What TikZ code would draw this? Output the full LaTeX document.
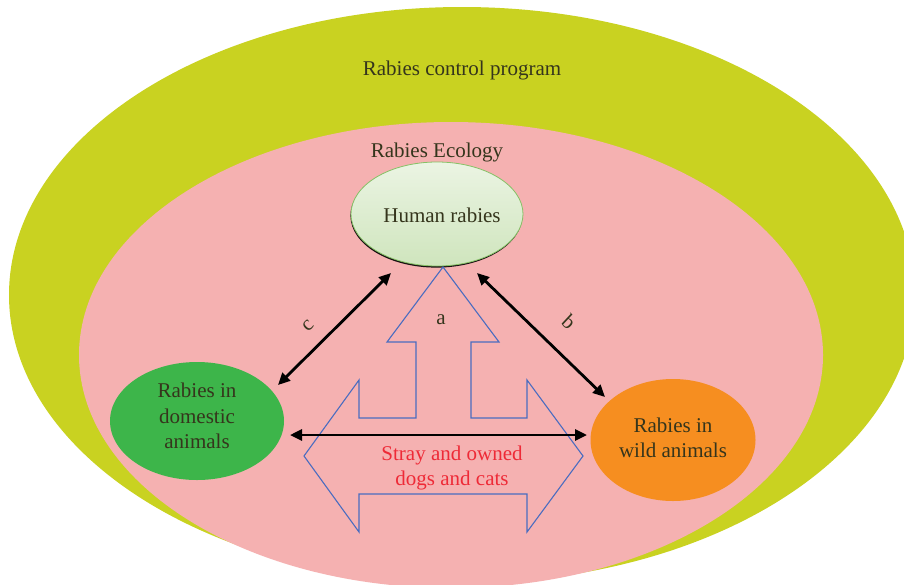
\documentclass[tikz,border=0pt]{standalone}
\usepackage{fontspec}
\setmainfont{Liberation Serif}
\usetikzlibrary{shapes.geometric,arrows.meta,shadows}
\definecolor{outerc}{HTML}{C9D221}
\definecolor{pinkc}{HTML}{F5B1B1}
\definecolor{domc}{HTML}{3DB54A}
\definecolor{wildc}{HTML}{F68E20}
\definecolor{humtop}{HTML}{EBF4E3}
\definecolor{humbot}{HTML}{CFE5BD}
\definecolor{humborder}{HTML}{86C166}
\definecolor{txtc}{HTML}{35351C}
\definecolor{redtxt}{HTML}{EE2A37}
\definecolor{bluec}{HTML}{4A6CC0}
\tikzset{
  lbl/.style={text=txtc, font=\fontsize{21}{25.5}\selectfont, align=center, inner sep=0pt},
  redlbl/.style={text=redtxt, font=\fontsize{21}{25.5}\selectfont, align=center, inner sep=0pt},
  smalllbl/.style={text=txtc, font=\fontsize{19}{22}\selectfont, inner sep=0pt},
  blob/.style={ellipse, inner sep=0pt},
  dblarrow/.style={line width=2.8pt, {Triangle[length=12pt,width=11pt]}-{Triangle[length=12pt,width=11pt]}},
  bigarrow/.style={draw=bluec, line width=1.1pt, line join=miter}
}
\begin{document}
\begin{tikzpicture}[x=1pt,y=-1pt]
\useasboundingbox (0,0) rectangle (904,584);
\clip (0,0) rectangle (904,584);
\fill[white] (0,0) rectangle (904,584);
% outer and inner regions
\fill[outerc] (462,295) ellipse [x radius=453pt, y radius=288pt];
\fill[pinkc] (451,355) ellipse [x radius=372pt, y radius=233pt];
\node[lbl] (program) at (462,70) {Rabies control program};
\node[lbl] (ecology) at (437,152) {Rabies Ecology};
% blobs
\node[blob, minimum width=172pt, minimum height=104pt, top color=humtop, bottom color=humbot,
      draw=humborder, line width=0.8pt,
      drop shadow={shadow xshift=-0.6pt, shadow yshift=-1.6pt, fill=black, opacity=0.9}] (human) at (437,214) {};
\node[lbl] (humantxt) at (442,215) {Human rabies};
\node[blob, minimum width=174pt, minimum height=118pt, fill=domc] (dom) at (197,421) {};
\node[lbl] (domtxt) at (197,416) {Rabies in\\domestic\\animals};
\node[blob, minimum width=165pt, minimum height=122pt, fill=wildc] (wild) at (673,440) {};
\node[lbl] (wildtxt) at (673,438) {Rabies in\\wild animals};
% big blue combined arrow
\draw[bigarrow] (443,267) -- (499,342) -- (471,342) -- (471,418) -- (527,418) -- (527,380)
  -- (583,456) -- (527,532) -- (527,494) -- (359,494) -- (359,532) -- (304,456)
  -- (359,380) -- (359,418) -- (416,418) -- (416,342) -- (387,342) -- cycle;
\node[lbl] (alabel) at (441,320) {a};
\node[redlbl] (stray) at (452,468) {Stray and owned\\dogs and cats};
% double arrows
\coordinate (cTop) at (391,273);
\coordinate (cBot) at (278,385);
\coordinate (bTop) at (477,273);
\coordinate (bBot) at (605,397);
\coordinate (hL) at (290,435);
\coordinate (hR) at (587,435);
\draw[dblarrow] (cBot) -- (cTop);
\draw[dblarrow] (bTop) -- (bBot);
\draw[dblarrow] (hL) -- (hR);
\node[lbl, rotate=45] (clabel) at (308,326) {c};
\node[lbl, rotate=-43] (blabel) at (569,322) {b};
\end{tikzpicture}
\end{document}
